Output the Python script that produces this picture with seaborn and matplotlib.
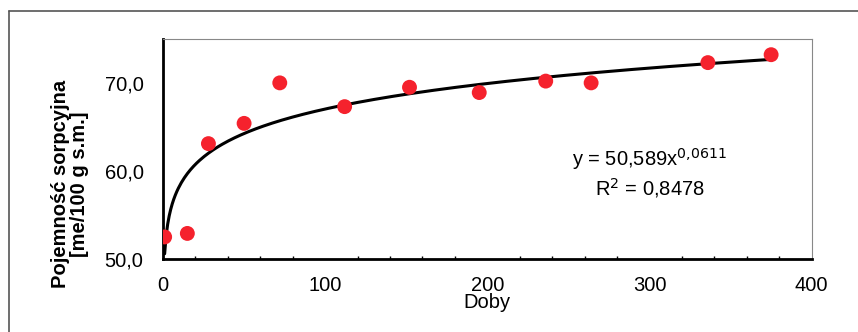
import matplotlib
matplotlib.use("Agg")
import matplotlib.pyplot as plt
import matplotlib.ticker as mticker
from matplotlib.lines import Line2D
import seaborn as sns
import numpy as np
import pandas as pd

# Measured points (days vs. sorption capacity)
doby = [1, 15, 28, 50, 72, 112, 152, 195, 236, 264, 336, 375]
pojemnosc = [52.5, 52.9, 63.1, 65.4, 70.0, 67.3, 69.5, 68.9, 70.2, 70.0, 72.3, 73.2]

# Power trendline coefficients as printed on the chart
coef_a = 50.589
coef_b = 0.0611

df = pd.DataFrame({"Doby": doby, "Pojemnosc": pojemnosc})

sns.set_style("white")
plt.rcParams["font.family"] = ["Liberation Sans", "DejaVu Sans"]
plt.rcParams["text.color"] = "black"
plt.rcParams["xtick.color"] = "black"
plt.rcParams["ytick.color"] = "black"
plt.rcParams["axes.labelcolor"] = "black"

fig = plt.figure(figsize=(8.58, 3.32), dpi=100)
ax = fig.add_axes([0.190, 0.220, 0.756, 0.663])

# trendline
xs = np.linspace(1, max(doby), 400)
ax.plot(xs, coef_a * xs ** coef_b, color="black", lw=2.2, zorder=2)

sns.scatterplot(data=df, x="Doby", y="Pojemnosc", ax=ax, color="#f5222d",
                s=115, edgecolor="none", zorder=3)

ax.set_xlim(0, 400)
ax.set_ylim(50, 75)
ax.set_xticks([0, 100, 200, 300, 400])
ax.xaxis.set_minor_locator(mticker.MultipleLocator(20))
ax.set_yticks([50, 60, 70])
ax.yaxis.set_major_formatter(mticker.FuncFormatter(lambda v, p: f"{v:.1f}".replace(".", ",")))
ax.tick_params(axis="both", which="major", labelsize=14.5, direction="in", length=3,
               width=1, color="black")
ax.tick_params(axis="y", which="major", pad=14)
ax.tick_params(axis="x", which="major", pad=12)
ax.tick_params(axis="x", which="minor", direction="in", length=2, width=1, bottom=True)

for side in ["left", "bottom"]:
    ax.spines[side].set_color("black")
    ax.spines[side].set_linewidth(2)
for side in ["top", "right"]:
    ax.spines[side].set_color("#888888")
    ax.spines[side].set_linewidth(0.8)

ax.set_xlabel("Doby", fontsize=14.5, labelpad=-1)
ax.set_ylabel("")
fig.text(70 / 858, 1 - 184 / 332, "Pojemność sorpcyjna\n[me/100 g s.m.]", rotation=90,
         ha="center", va="center", multialignment="center", fontsize=14.5,
         fontweight="bold", linespacing=1.0)

ax.text(300, 61.4, "y = 50,589x$^{0{,}0611}$", ha="center", va="center", fontsize=14.5)
ax.text(300, 58.1, "R$^{2}$ = 0,8478", ha="center", va="center", fontsize=14.5)

# outer chart-area frame (left and top edges)
fig.add_artist(Line2D([9 / 858, 9 / 858], [0, 1 - 11 / 332], transform=fig.transFigure,
                      color="#555555", lw=1.2))
fig.add_artist(Line2D([9 / 858, 1], [1 - 11 / 332, 1 - 11 / 332], transform=fig.transFigure,
                      color="#555555", lw=1.2))

fig.savefig("out.png", dpi=100)
